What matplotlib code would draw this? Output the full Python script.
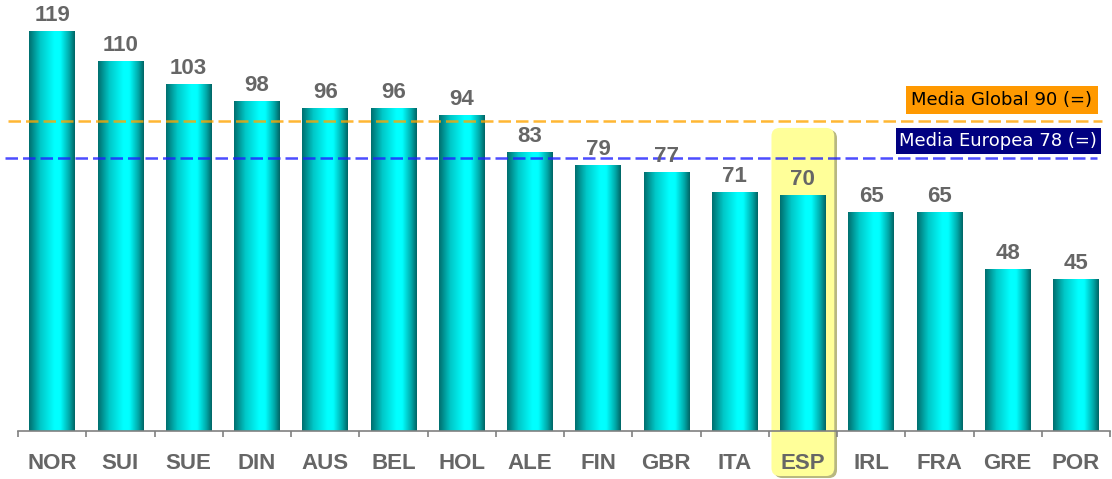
import numpy as np
import matplotlib
matplotlib.use('Agg')
import matplotlib.pyplot as plt
from matplotlib.colors import LinearSegmentedColormap
from matplotlib.patches import FancyBboxPatch

# Data
countries = ['NOR', 'SUI', 'SUE', 'DIN', 'AUS', 'BEL', 'HOL', 'ALE',
             'FIN', 'GBR', 'ITA', 'ESP', 'IRL', 'FRA', 'GRE', 'POR']
values = [119, 110, 103, 98, 96, 96, 94, 83, 79, 77, 71, 70, 65, 65, 48, 45]
highlight = 'ESP'

# reference lines (label text and the height where they are drawn)
global_label = 'Media Global 90 (=)'
global_pos = 92.3
europe_label = 'Media Europea 78 (=)'
europe_pos = 81.3

plt.rcParams['font.family'] = ['Liberation Sans', 'DejaVu Sans']

fig = plt.figure(figsize=(11.12, 4.79), dpi=100)
ax = fig.add_axes([18 / 1112, 48 / 479, 1092 / 1112, 431 / 479])
ax.patch.set_visible(False)

n = len(countries)
ymax = 431 / 3.36

# cylinder-like horizontal gradient for the bars
cyl = LinearSegmentedColormap.from_list(
    'cyl', [(0.0, '#006E6E'), (0.25, '#00C8C8'), (0.55, '#00FFFF'),
            (0.68, '#00FFFF'), (0.88, '#00A8A8'), (1.0, '#006464')])
grad = np.linspace(0, 1, 256).reshape(1, -1)
bar_w = 0.67
for i, v in enumerate(values):
    ax.imshow(grad, cmap=cyl, aspect='auto', interpolation='bilinear',
              extent=(i - bar_w / 2, i + bar_w / 2, 0, v), zorder=2)
    ax.annotate(str(v), (i, v), xytext=(0, 4), textcoords='offset points',
                ha='center', va='bottom', fontsize=16, fontweight='bold',
                color='#666666', zorder=5)
ax.set_xlim(-0.5, n - 0.5)
ax.set_ylim(0, ymax)

# yellow highlight behind the selected country
k = countries.index(highlight)
asp = (1 / 3.36) / (1 / 68.25)
shadow = FancyBboxPatch((k - 0.46 + 0.04, -13.4 - 0.6), 0.92, 103.6,
                        boxstyle='round,pad=0,rounding_size=0.12',
                        mutation_aspect=asp, facecolor='#B8B880',
                        edgecolor='none', clip_on=False, zorder=0.5)
box = FancyBboxPatch((k - 0.46, -13.4), 0.92, 103.6,
                     boxstyle='round,pad=0,rounding_size=0.12',
                     mutation_aspect=asp, facecolor='#FFFF99',
                     edgecolor='none', clip_on=False, zorder=0.6)
ax.add_patch(shadow)
ax.add_patch(box)

# dashed average lines
ax.plot([-0.647, 15.38], [global_pos, global_pos], color='#FFA500', lw=1.8,
        dashes=(5, 2), clip_on=False, zorder=4, alpha=0.8)
ax.plot([-0.69, 15.31], [europe_pos, europe_pos], color='#2020FF', lw=1.8,
        dashes=(5, 2), clip_on=False, zorder=4, alpha=0.8)

ax.text(15.24, (431 - 100) / 3.36, global_label,
        ha='right', va='center', fontsize=13, family='DejaVu Sans',
        color='black', zorder=6,
        bbox=dict(boxstyle='square,pad=0.3', facecolor='#FF9900',
                  edgecolor='none'))
ax.text(15.31, (431 - 141) / 3.36, europe_label,
        ha='right', va='center', fontsize=13, family='DejaVu Sans',
        color='white', zorder=6,
        bbox=dict(boxstyle='square,pad=0.2', facecolor='#000080',
                  edgecolor='none'))

# axes styling
for s in ['top', 'right', 'left']:
    ax.spines[s].set_visible(False)
ax.spines['bottom'].set_color('#808080')
ax.spines['bottom'].set_linewidth(1.2)
ax.set_yticks([])
ax.set_xticks(range(n))
ax.set_xticklabels(countries, fontsize=16, fontweight='bold', color='#666666')
ax.set_xticks(np.arange(-0.5, n, 1), minor=True)
ax.tick_params(axis='x', which='major', length=0, pad=16)
ax.tick_params(axis='x', which='minor', length=4, width=1.2, color='#808080',
               direction='out')

fig.savefig('out.png', dpi=100)
